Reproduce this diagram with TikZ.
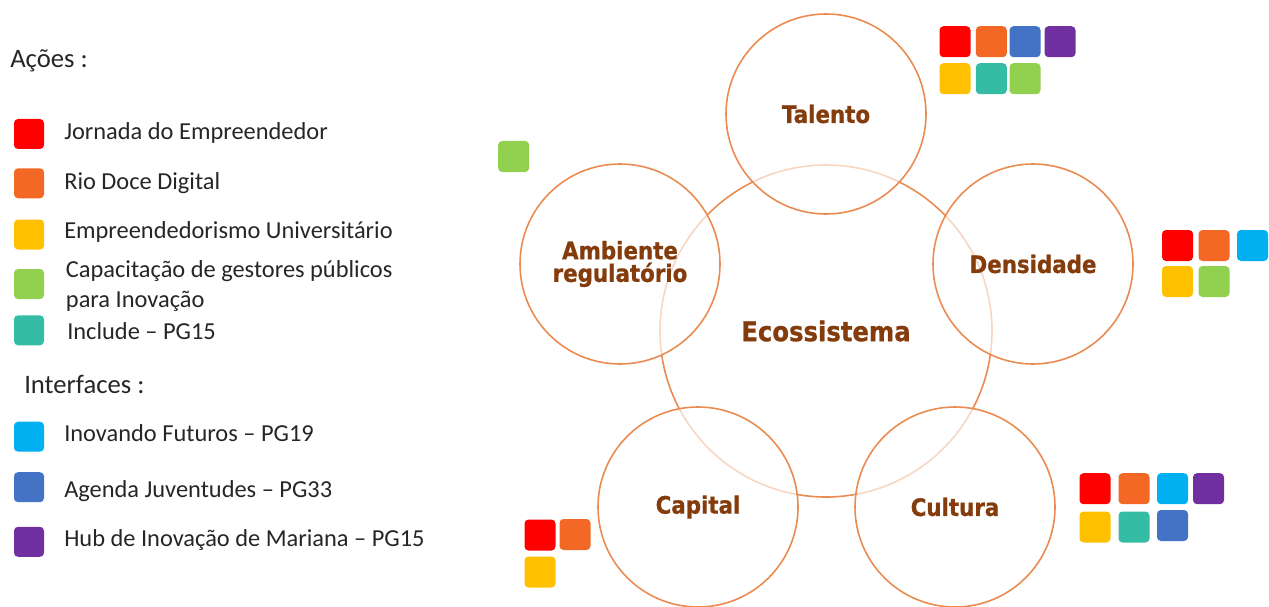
\documentclass[tikz,border=0pt]{standalone}
\usepackage{fontspec}
\setmainfont{Carlito}
\newfontfamily\lblfont{DejaVu Sans}[FakeStretch=0.89,BoldFeatures={FakeBold=0.8}]
\usetikzlibrary{positioning}
\definecolor{ringcol}{RGB}{234,140,82}
\definecolor{lblcol}{RGB}{132,60,12}
\definecolor{cRed}{RGB}{255,0,0}
\definecolor{cOrange}{RGB}{242,104,36}
\definecolor{cYellow}{RGB}{255,192,0}
\definecolor{cGreen}{RGB}{146,208,80}
\definecolor{cTeal}{RGB}{53,188,165}
\definecolor{cCyan}{RGB}{0,176,240}
\definecolor{cBlue}{RGB}{68,114,196}
\definecolor{cPurple}{RGB}{112,48,160}

\begin{document}
\begin{tikzpicture}[x=0.75pt,y=-0.75pt,
  sq/.style={rectangle,rounded corners=3pt,minimum size=23.25pt,inner sep=0pt,draw=none},
  lsq/.style={sq,minimum size=22.5pt},
  ring/.style={circle,draw=ringcol,line width=1.2pt,minimum size=150pt,inner sep=0pt,fill=white,fill opacity=0.65,text opacity=1},
  lbl/.style={font=\lblfont\bfseries\fontsize{18}{19}\selectfont,text=lblcol,align=center},
  leg/.style={font=\fontsize{18.3}{21}\selectfont,text=black!85,anchor=base west,inner sep=0pt},
  head/.style={leg,font=\fontsize{20}{23}\selectfont}]
\useasboundingbox (0,0) rectangle (1269,606);

\node[circle,draw=ringcol,line width=1.2pt,minimum size=249pt,inner sep=0pt,lbl,font=\lblfont\bfseries\fontsize{20.5}{22}\selectfont] (eco) at (826,331) {Ecossistema};
\node[ring,lbl] (tal) at (826,114) {Talento};
\node[ring,lbl] (amb) at (620,264) {Ambiente\\[-2pt]regulatório};
\node[ring,lbl] (den) at (1033,264) {Densidade};
\node[ring,lbl] (cap) at (698,507) {Capital};
\node[ring,lbl] (cul) at (955,507) {Cultura};

\node[sq,fill=cRed] (talR) at (955,41.7) {};
\node[sq,fill=cOrange] (talO) at (991.3,41.7) {};
\node[sq,fill=cBlue] (talB) at (1025,41.7) {};
\node[sq,fill=cPurple] (talP) at (1060,41.7) {};
\node[sq,fill=cYellow] (talY) at (955,78.7) {};
\node[sq,fill=cTeal] (talT) at (991.3,78.7) {};
\node[sq,fill=cGreen] (talG) at (1025,78.7) {};

\node[sq,fill=cGreen] (ambG) at (513.7,156.5) {};

\node[sq,fill=cRed] (denR) at (1177.5,245.5) {};
\node[sq,fill=cOrange] (denO) at (1214,245.5) {};
\node[sq,fill=cCyan] (denC) at (1252.5,245.5) {};
\node[sq,fill=cYellow] (denY) at (1177.5,281.5) {};
\node[sq,fill=cGreen] (denG) at (1214,281.5) {};

\node[sq,fill=cRed] (capR) at (540,535) {};
\node[sq,fill=cOrange] (capO) at (575,534.5) {};
\node[sq,fill=cYellow] (capY) at (540,572) {};

\node[sq,fill=cRed] (culR) at (1095,488.7) {};
\node[sq,fill=cOrange] (culO) at (1134,488.7) {};
\node[sq,fill=cCyan] (culC) at (1172.5,488.7) {};
\node[sq,fill=cPurple] (culP) at (1208.5,488.7) {};
\node[sq,fill=cYellow] (culY) at (1095,527) {};
\node[sq,fill=cTeal] (culT) at (1134,527) {};
\node[sq,fill=cBlue] (culB) at (1172.5,525.5) {};

\node[head] (acoes) at (10,67.7) {Ações :};
\node[lsq,fill=cRed] (lR) at (29,134) {};
\node[leg] (tR) at (64,140) {Jornada do Empreendedor};
\node[lsq,fill=cOrange] (lO) at (29,183.3) {};
\node[leg] (tO) at (64,189) {Rio Doce Digital};
\node[lsq,fill=cYellow] (lY) at (29,234.5) {};
\node[leg] (tY) at (64,238) {Empreendedorismo Universitário};
\node[lsq,fill=cGreen] (lG) at (29,284) {};
\node[leg] (tG) at (65.7,277.3) {Capacitação de gestores públicos};
\node[leg] (tG2) at (65.7,307) {para Inovação};
\node[lsq,fill=cTeal] (lT) at (29,330.3) {};
\node[leg] (tT) at (67,339) {Include – PG15};
\node[head] (inter) at (24,393) {Interfaces :};
\node[lsq,fill=cCyan] (lC) at (29,436.7) {};
\node[leg] (tC) at (64,441.7) {Inovando Futuros – PG19};
\node[lsq,fill=cBlue] (lB) at (29,487.2) {};
\node[leg] (tB) at (64,497) {Agenda Juventudes – PG33};
\node[lsq,fill=cPurple] (lP) at (29,541.8) {};
\node[leg] (tP) at (64,546) {Hub de Inovação de Mariana – PG15};

\end{tikzpicture}
\end{document}
